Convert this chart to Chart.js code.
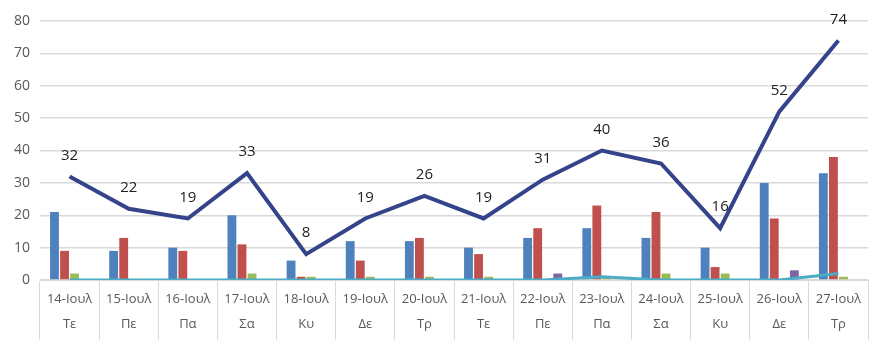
<!DOCTYPE html>
<html>
<head>
<meta charset="utf-8">
<script src="https://cdn.jsdelivr.net/npm/chart.js@4"></script>
<style>
  body { margin: 0; background: #fff; }
  #wrap { width: 880px; height: 350px; }
</style>
</head>
<body>
<div id="wrap"><canvas id="chart" width="880" height="350"></canvas></div>
<script>
// categories
const dates = ['14-Ιουλ', '15-Ιουλ', '16-Ιουλ', '17-Ιουλ', '18-Ιουλ', '19-Ιουλ', '20-Ιουλ',
               '21-Ιουλ', '22-Ιουλ', '23-Ιουλ', '24-Ιουλ', '25-Ιουλ', '26-Ιουλ', '27-Ιουλ'];
const days = ['Τε', 'Πε', 'Πα', 'Σα', 'Κυ', 'Δε', 'Τρ', 'Τε', 'Πε', 'Πα', 'Σα', 'Κυ', 'Δε', 'Τρ'];

// series values
const totalLine = [32, 22, 19, 33, 8, 19, 26, 19, 31, 40, 36, 16, 52, 74];
const blueBars = [21, 9, 10, 20, 6, 12, 12, 10, 13, 16, 13, 10, 30, 33];
const redBars = [9, 13, 9, 11, 1, 6, 13, 8, 16, 23, 21, 4, 19, 38];
const greenBars = [2, 0, 0, 2, 1, 1, 1, 1, 0, 1, 2, 2, 0, 1];
const purpleBars = [0, 0, 0, 0, 0, 0, 0, 0, 2, 0, 0, 0, 3, 0];
const cyanLine = [0, 0, 0, 0, 0, 0, 0, 0, 0, 1, 0, 0, 0, 2];

// y ticks
const yMin = 0, yMax = 80, yStep = 10;

const labels = dates.map((d, i) => [d, days[i]]);

const bar = (data, color) => ({
    type: 'bar',
    data: data,
    backgroundColor: color,
    borderWidth: 0,
    barPercentage: 0.88,
    categoryPercentage: 0.68,
    order: 2
});

// Value labels above the main line
const lineLabels = {
    id: 'lineLabels',
    afterDatasetsDraw(chart) {
        const ctx = chart.ctx;
        const meta = chart.getDatasetMeta(0);
        ctx.save();
        ctx.font = '15px "Open Sans", sans-serif';
        ctx.fillStyle = '#222';
        ctx.textAlign = 'center';
        ctx.textBaseline = 'middle';
        meta.data.forEach((pt, i) => {
            ctx.fillText(totalLine[i], pt.x, pt.y - 21);
        });
        ctx.restore();
    }
};

new Chart(document.getElementById('chart').getContext('2d'), {
    type: 'bar',
    data: {
        labels: labels,
        datasets: [
            {
                type: 'line',
                data: totalLine,
                borderColor: '#34438a',
                borderWidth: 4,
                pointRadius: 0,
                tension: 0,
                fill: false,
                order: 0
            },
            {
                type: 'line',
                data: cyanLine,
                borderColor: '#4bacc6',
                borderWidth: 3,
                pointRadius: 0,
                tension: 0,
                fill: false,
                order: 1
            },
            bar(blueBars, '#4f81bd'),
            bar(redBars, '#c0504d'),
            bar(greenBars, '#9bbb59'),
            bar(purpleBars, '#8064a2')
        ]
    },
    options: {
        responsive: false,
        animation: false,
        layout: { padding: { top: 21, right: 12, left: 0, bottom: 0 } },
        plugins: {
            legend: { display: false },
            tooltip: { enabled: false }
        },
        scales: {
            x: {
                offset: true,
                grid: {
                    offset: true,
                    drawOnChartArea: false,
                    drawTicks: true,
                    tickLength: 60,
                    color: '#d9d9d9'
                },
                border: { display: true, color: '#d9d9d9' },
                ticks: {
                    color: '#595959',
                    font: { family: '"Open Sans", sans-serif', size: 13, lineHeight: 1.9 },
                    padding: -53,
                    maxRotation: 0,
                    autoSkip: false
                },
                afterFit(scale) { scale.height = 70; }
            },
            y: {
                min: yMin,
                max: yMax,
                ticks: {
                    stepSize: yStep,
                    color: '#595959',
                    font: { family: '"Open Sans", sans-serif', size: 14 },
                    padding: 10
                },
                grid: { color: '#d9d9d9', drawTicks: false, lineWidth: 1.5 },
                border: { display: false },
                afterFit(scale) { scale.width = 40; }
            }
        }
    },
    plugins: [lineLabels]
});
</script>
</body>
</html>
